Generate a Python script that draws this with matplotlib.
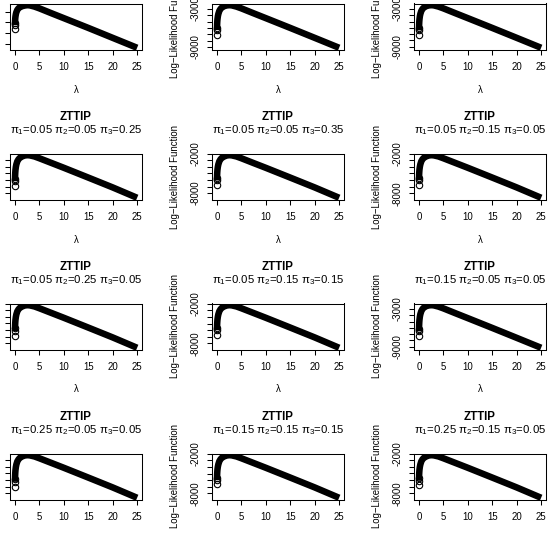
import numpy as np
import matplotlib.pyplot as plt
from matplotlib.ticker import FixedLocator, FixedFormatter

plt.rcParams['font.family'] = ['Liberation Sans', 'DejaVu Sans']
plt.rcParams['mathtext.fontset'] = 'custom'
plt.rcParams['mathtext.rm'] = 'Liberation Sans'
plt.rcParams['mathtext.default'] = 'regular'
plt.rcParams['axes.unicode_minus'] = False

# lambda grid
lam = [0.01, 0.02, 0.03, 0.05, 0.08, 0.12, 0.2, 0.3, 0.5, 0.75, 1, 1.5, 2, 2.5,
       3, 4, 5, 7.5, 10, 15, 20, 25]

# log-likelihood per panel, row by row
ll_r1c1 = [-7200, -6540, -6160, -5690, -5260, -4910, -4470, -4120, -3680, -3370, -3200, -2980, -2870, -2800,
           -2825, -3060, -3390, -4320, -5230, -7060, -8930, -10800]
ll_r1c2 = [-7050, -6350, -5950, -5450, -5000, -4620, -4150, -3780, -3300, -2980, -2780, -2550, -2440, -2400,
           -2420, -2620, -2900, -3680, -4450, -6000, -7570, -9150]
ll_r1c3 = [-7100, -6400, -5990, -5480, -5020, -4640, -4160, -3790, -3310, -2990, -2790, -2560, -2450, -2410,
           -2430, -2630, -2910, -3690, -4460, -6010, -7580, -9160]
ll_r2c1 = [-6900, -6200, -5800, -5300, -4860, -4480, -4020, -3650, -3180, -2870, -2670, -2440, -2310, -2260,
           -2280, -2450, -2720, -3440, -4160, -5640, -7130, -8700]
ll_r2c2 = [-6750, -6080, -5700, -5220, -4800, -4430, -3990, -3630, -3170, -2860, -2660, -2440, -2300, -2250,
           -2270, -2440, -2710, -3440, -4160, -5640, -7130, -8700]
ll_r2c3 = [-6700, -6040, -5660, -5190, -4780, -4410, -3980, -3620, -3160, -2850, -2650, -2430, -2300, -2250,
           -2270, -2440, -2710, -3430, -4150, -5630, -7120, -8690]
ll_r3c1 = [-6850, -6160, -5770, -5280, -4840, -4460, -4010, -3640, -3170, -2860, -2660, -2440, -2300, -2250,
           -2270, -2440, -2710, -3430, -4150, -5630, -7120, -8690]
ll_r3c2 = [-6680, -6020, -5640, -5170, -4760, -4390, -3960, -3600, -3140, -2830, -2630, -2410, -2280, -2230,
           -2250, -2420, -2690, -3410, -4130, -5610, -7100, -8670]
ll_r3c3 = [-7300, -6560, -6130, -5600, -5120, -4720, -4220, -3830, -3340, -3000, -2800, -2560, -2450, -2410,
           -2430, -2630, -2910, -3690, -4460, -6010, -7580, -9160]
ll_r4c1 = [-7000, -6290, -5880, -5360, -4910, -4520, -4050, -3670, -3190, -2880, -2670, -2440, -2310, -2260,
           -2280, -2450, -2720, -3440, -4160, -5640, -7130, -8700]
ll_r4c2 = [-6650, -5990, -5620, -5150, -4740, -4380, -3950, -3600, -3140, -2830, -2630, -2410, -2280, -2230,
           -2250, -2420, -2690, -3410, -4130, -5610, -7100, -8670]
ll_r4c3 = [-6800, -6120, -5730, -5240, -4820, -4440, -4000, -3640, -3170, -2860, -2660, -2440, -2300, -2250,
           -2270, -2440, -2710, -3430, -4150, -5630, -7120, -8690]

ll_all = [ll_r1c1, ll_r1c2, ll_r1c3, ll_r2c1, ll_r2c2, ll_r2c3,
          ll_r3c1, ll_r3c2, ll_r3c3, ll_r4c1, ll_r4c2, ll_r4c3]

# pi parameters in the panel titles (first row is cut off in the picture)
pi1 = [0.05, 0.05, 0.05, 0.05, 0.05, 0.05, 0.05, 0.05, 0.15, 0.25, 0.15, 0.25]
pi2 = [0.05, 0.05, 0.05, 0.05, 0.05, 0.15, 0.25, 0.15, 0.05, 0.05, 0.15, 0.15]
pi3 = [0.05, 0.15, 0.20, 0.25, 0.35, 0.05, 0.05, 0.15, 0.05, 0.05, 0.15, 0.05]

# y axis: tick step and the two labelled ticks
y_step = [2000, 1000, 1000, 1000, 1000, 1000, 1000, 1000, 1000, 1000, 1000, 1000]
y_lab = [(-10000, -4000), (-9000, -3000), (-9000, -3000), (-8000, -2000), (-8000, -2000), (-8000, -2000),
         (-8000, -2000), (-8000, -2000), (-9000, -3000), (-8000, -2000), (-8000, -2000), (-8000, -2000)]

W, H = 555, 534
fig = plt.figure(figsize=(W / 100, H / 100), dpi=100)

bw, bh = 132, 46
for k in range(12):
    r, c = divmod(k, 3)
    left = 10 + 202 * c
    top = 3.5 + 150 * r
    ax = fig.add_axes([left / W, 1 - (top + bh) / H, bw / W, bh / H])
    ll = ll_all[k]
    # the dense run of open circles shows up as a thick band
    ax.plot(lam[1:], ll[1:], color='black', lw=4.7, solid_joinstyle='round', solid_capstyle='butt')
    ax.plot(lam[:3], ll[:3], 'o', mfc='none', mec='black', ms=4.6, mew=0.8)
    ax.margins(x=0.04, y=0.04)
    ax.set_xlim(-1, 26)

    lo, hi = ax.get_ylim()
    step = y_step[k]
    ticks = np.arange(np.ceil(lo / step) * step, hi + 1, step)
    ax.yaxis.set_major_locator(FixedLocator(ticks))
    ax.yaxis.set_major_formatter(FixedFormatter([str(int(t)) if int(t) in y_lab[k] else '' for t in ticks]))
    ax.set_xticks([0, 5, 10, 15, 20, 25])

    ax.tick_params(axis='x', direction='out', length=3.6, width=0.75, labelsize=6.9, pad=5.2)
    ax.tick_params(axis='y', direction='out', length=3.6, width=0.75, labelsize=6.9, pad=4.5,
                   labelrotation=90)
    for lbl in ax.get_yticklabels():
        lbl.set_va('center')
    for sp in ax.spines.values():
        sp.set_linewidth(0.75)

    ax.text(0.5, 1 + 37 / bh, 'ZTTIP', transform=ax.transAxes, ha='center', va='center',
            fontsize=8.3, fontweight='bold')
    sub = r'$π_1$=%.2f $π_2$=%.2f $π_3$=%.2f' % (pi1[k], pi2[k], pi3[k])
    ax.text(0.5, 1 + 23 / bh, sub, transform=ax.transAxes, ha='center', va='center', fontsize=8.2)
    ax.text(0.5, -40 / bh, 'λ', transform=ax.transAxes, ha='center', va='center', fontsize=6.9)
    ax.text(-37 / bw, 0.5, 'Log\u2212Likelihood Function', transform=ax.transAxes, rotation=90,
            ha='center', va='center', fontsize=6.9)

fig.savefig('out.png', dpi=100)
